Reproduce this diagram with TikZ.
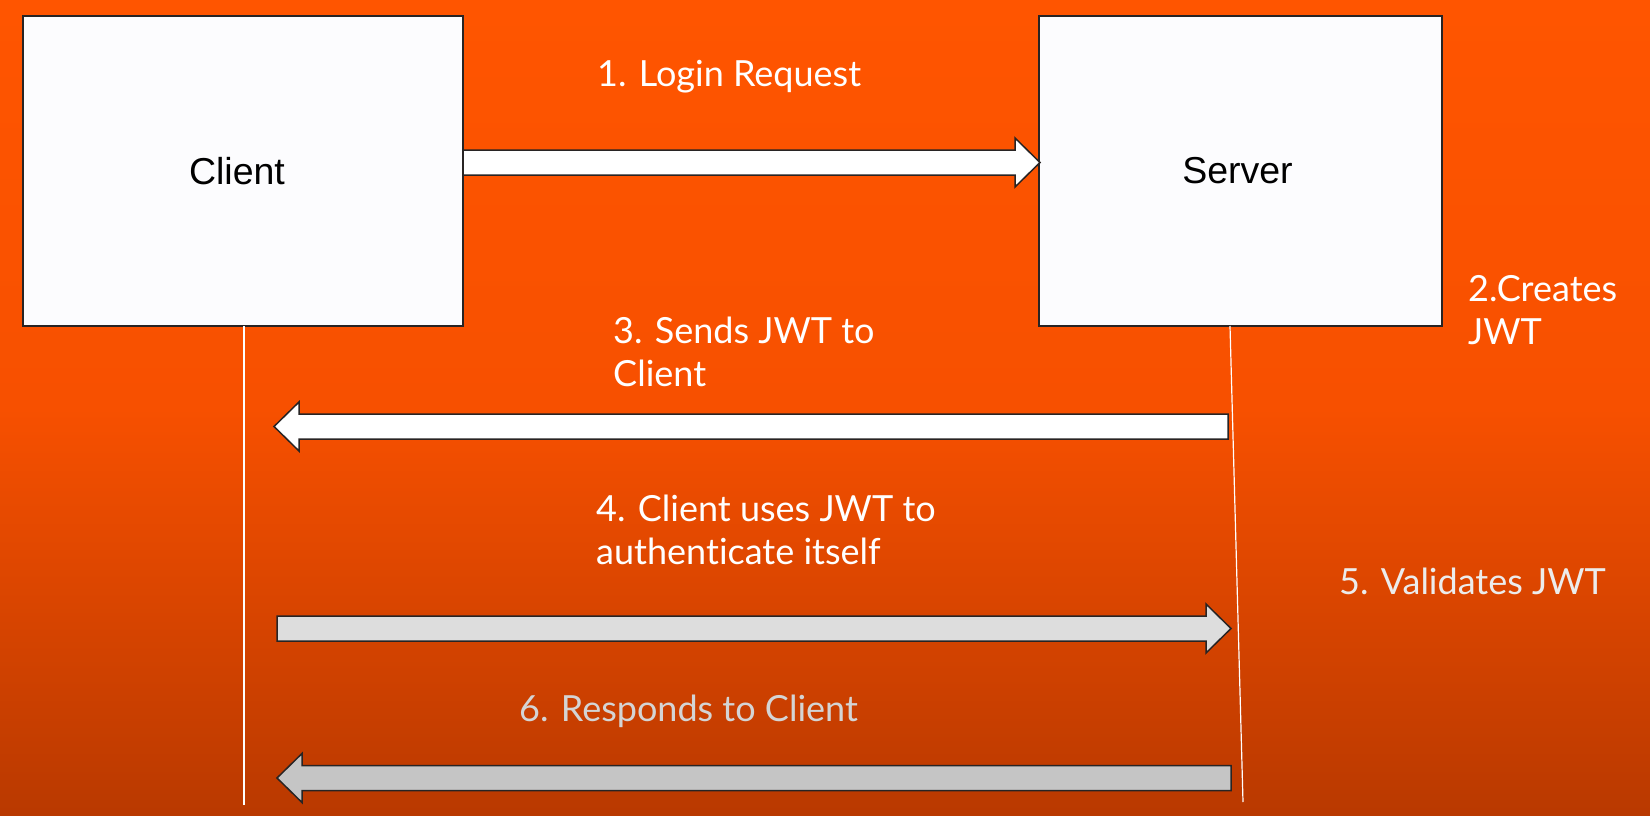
\documentclass[tikz,border=0pt]{standalone}
\usepackage{fontspec}
\newfontfamily\notefont[Ligatures=NoCommon]{Lato}
\newfontfamily\boxfont{Liberation Sans}
\usetikzlibrary{
  calc}
\definecolor{bgtopcolor}{RGB}{255,85,0}
\definecolor{bgmidcolor}{RGB}{247,80,0}
\definecolor{bgbottomcolor}{RGB}{185,57,0}
\definecolor{boxcolor}{RGB}{252,252,254}
\definecolor{edgecolor}{RGB}{40,36,36}
\definecolor{lightarrowcolor}{RGB}{221,221,221}
\definecolor{darkarrowcolor}{RGB}{197,197,197}
\definecolor{fadedcolor}{RGB}{236,236,236}
\definecolor{greytextcolor}{RGB}{212,212,212}
\tikzset{
  %% party : the client and the server boxes
  party/.style={
    rectangle,
    draw=edgecolor,
    line width=1.5pt,
    fill=boxcolor,
    font=\boxfont\fontsize{37.5}{45}\selectfont,
    align=center
  },
  %% note : the step labels
  note/.style={
    inner sep=0pt,
    text=white,
    font=\notefont\fontsize{36}{43}\selectfont,
    align=left
  },
  %% lifeline : thin line below a party
  lifeline/.style={
    draw=white,
    line width=1.2pt
  },
  %% message : a fat block arrow between the lifelines
  %% use as  \draw [message] (from) to (to);
  message/.style={
    draw=edgecolor,
    line width=1.5pt,
    line join=miter,
    to path={
      let \p1=(\tikztostart), \p2=(\tikztotarget),
      \n1={sign(\x2-\x1)} in
      (\x1,\y1+12.5pt) -- (\x2-\n1*25pt,\y1+12.5pt)
      -- (\x2-\n1*25pt,\y1+24.5pt) -- (\x2,\y1)
      -- (\x2-\n1*25pt,\y1-24.5pt) -- (\x2-\n1*25pt,\y1-12.5pt)
      -- (\x1,\y1-12.5pt) -- cycle}
  }
}

\begin{document}
\begin{tikzpicture}
  [x=1pt,
  y=-1pt]

  %% Background
  \shade [top color=bgtopcolor, bottom color=bgbottomcolor,
  middle color=bgmidcolor] (0, 0) rectangle (1650, 816);
  \useasboundingbox (0, 0) rectangle (1650, 816);

  %% Parties
  \node (client) [party, minimum width=440, minimum height=310]
  at (243, 171) {Client\hspace*{12pt}};
  \node (server) [party, minimum width=403, minimum height=310]
  at (1240.5, 171) {Server\hspace*{6pt}};

  %% Lifelines
  \coordinate (clienttop) at (244, 326);
  \coordinate (clientbottom) at (244, 805);
  \coordinate (servertop) at (1230, 326);
  \coordinate (serverbottom) at (1243, 802);
  \draw [lifeline] (clienttop) -- (clientbottom);
  \draw [lifeline] (servertop) -- (serverbottom);

  %% Messages
  \coordinate (loginfrom) at (463, 162.5);
  \coordinate (loginto) at (1040, 162.5);
  \draw [message, fill=white] (loginfrom) to (loginto);

  \coordinate (sendfrom) at (1228, 426.5);
  \coordinate (sendto) at (274, 426.5);
  \draw [message, fill=white] (sendfrom) to (sendto);

  \coordinate (usefrom) at (277, 628.5);
  \coordinate (useto) at (1231, 628.5);
  \draw [message, fill=lightarrowcolor] (usefrom) to (useto);

  \coordinate (respondfrom) at (1231, 778);
  \coordinate (respondto) at (277, 778);
  \draw [message, fill=darkarrowcolor] (respondfrom) to (respondto);

  %% Step labels (base = baseline of the last line)
  \node (login) [note, anchor=base west] at (597, 86) {%
    1. Login Request};
  \node (creates) [note, anchor=base west] at (1468, 344) {%
    2.Creates\\
    JWT};
  \node (sends) [note, anchor=base west] at (613, 386) {%
    3. Sends JWT to\\
    Client};
  \node (uses) [note, anchor=base west] at (596, 564) {%
    4. Client uses JWT to\\
    authenticate itself};
  \node (validates) [note, anchor=base west, text=fadedcolor]
  at (1339, 594) {%
    5. Validates JWT};
  \node (responds) [note, anchor=base west, text=greytextcolor]
  at (519, 721) {%
    6. Responds to Client};

\end{tikzpicture}
\end{document}
